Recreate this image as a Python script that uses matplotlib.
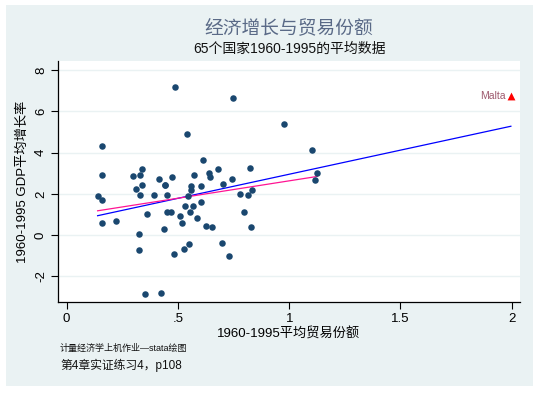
import numpy as np
import matplotlib
matplotlib.use("Agg")
import matplotlib.pyplot as plt
from matplotlib.patches import Rectangle

plt.rcParams['font.family'] = ['Liberation Sans', 'Noto Sans CJK SC', 'DejaVu Sans']

# Data: average trade share (x) and average GDP growth (y), 1960-1995
trade = [0.488, 0.746, 0.978, 0.542, 0.159, 1.104, 0.613, 0.824, 0.337, 0.682,
         0.640, 1.126, 0.159, 0.298, 0.329, 0.574, 0.473, 0.646, 0.416, 0.744,
         1.115, 0.338, 0.440, 0.702, 0.560, 0.604, 0.443, 0.311, 0.560, 0.834,
         0.139, 0.328, 0.392, 0.451, 0.780, 0.813, 0.159, 0.544, 0.605, 0.533,
         0.569, 0.360, 0.452, 0.469, 0.553, 0.511, 0.797, 0.584, 0.157, 0.220,
         0.517, 0.626, 0.653, 0.436, 0.830, 0.325, 0.699, 0.550, 0.527, 0.325,
         0.484, 0.728, 0.352, 0.424]
growth = [7.20, 6.65, 5.40, 4.90, 4.30, 4.11, 3.66, 3.27, 3.22, 3.20,
          3.01, 3.01, 2.93, 2.88, 2.93, 2.90, 2.82, 2.80, 2.70, 2.70,
          2.65, 2.44, 2.44, 2.49, 2.38, 2.38, 2.41, 2.22, 2.18, 2.20,
          1.91, 1.96, 1.96, 1.96, 2.00, 1.94, 1.71, 1.88, 1.59, 1.42,
          1.42, 1.00, 1.10, 1.13, 1.10, 0.94, 1.10, 0.83, 0.58, 0.68,
          0.57, 0.44, 0.37, 0.31, 0.39, 0.05, -0.37, -0.45, -0.66, -0.71,
          -0.91, -1.00, -2.88, -2.80]
malta_x = [1.996]
malta_y = [6.75]
malta_label = "Malta"

xticks = [0, 0.5, 1, 1.5, 2]
xticklabels = ["0", ".5", "1", "1.5", "2"]
yticks = [-2, 0, 2, 4, 6, 8]
yticklabels = ["-2", "0", "2", "4", "6", "8"]

W, H = 539, 394
fig = plt.figure(figsize=(W / 100, H / 100), dpi=100)
fig.patch.set_facecolor('white')
bg = Rectangle((6 / W, 1 - 386 / H), (533 - 6) / W, (386 - 5) / H,
               transform=fig.transFigure, facecolor='#EAF2F3',
               edgecolor='none', zorder=-10)
fig.patches.append(bg)

left, right, top, bottom = 58, 520, 61, 302
ax = fig.add_axes([left / W, 1 - bottom / H, (right - left) / W, (bottom - top) / H])
ax.set_zorder(1)
ax.set_facecolor('white')
ax.set_xlim(-0.039, 2.037)
ax.set_ylim(-3.25, 8.45)

for yt in yticks:
    ax.axhline(yt, color='#EAF2F3', lw=1.0, zorder=1)

# regression lines
allx = np.array(trade + malta_x)
ally = np.array(growth + malta_y)
b1, a1 = np.polyfit(allx, ally, 1)
xs1 = np.array([allx.min(), allx.max()])
ax.plot(xs1, a1 + b1 * xs1, color='#0000FF', lw=0.9, zorder=3)

tx = np.array(trade)
ty = np.array(growth)
b2, a2 = np.polyfit(tx, ty, 1)
xs2 = np.array([tx.min(), tx.max()])
ax.plot(xs2, a2 + b2 * xs2, color='#FF1493', lw=0.9, zorder=3)

ax.scatter(trade, growth, s=22, color='#1A476F', zorder=4, linewidths=0)
ax.scatter(malta_x, malta_y, s=32, marker='^', color='#FF0000', zorder=4, linewidths=0)
ax.annotate(malta_label, (malta_x[0], malta_y[0]), xytext=(-3.5, 0),
            textcoords='offset points', ha='right', va='center',
            fontsize=7.5, color='#9E5A6E')

for s in ['top', 'right']:
    ax.spines[s].set_visible(False)
ax.spines['left'].set_color('#000000')
ax.spines['bottom'].set_color('#000000')
ax.spines['left'].set_linewidth(0.9)
ax.spines['bottom'].set_linewidth(0.9)

ax.set_xticks(xticks)
ax.set_xticklabels(xticklabels, fontsize=9.5)
ax.set_yticks(yticks)
ax.set_yticklabels(yticklabels, fontsize=9.5, rotation=90, va='center')
ax.tick_params(axis='both', length=5, width=0.8, color='#000000', pad=3)

ax.set_xlabel("1960-1995平均贸易份额", fontsize=9.5, labelpad=1.5)
ax.set_ylabel("1960-1995 GDP平均增长率", fontsize=9.5, labelpad=4)

cx = (left + right) / 2 / W
fig.text(cx, 1 - 28 / H, "经济增长与贸易份额", ha='center', va='center',
         fontsize=13.5, color='#5A6A87')
fig.text(cx, 1 - 49 / H, "65个国家1960-1995的平均数据", ha='center', va='center',
         fontsize=10, color='#111111')
fig.text(60 / W, 1 - 349 / H, "计量经济学上机作业—stata绘图", ha='left', va='center',
         fontsize=6.5, color='#111111')
fig.text(60 / W, 1 - 365 / H, "第4章实证练习4，p108", ha='left', va='center',
         fontsize=8.5, color='#111111')

fig.savefig("out.png", dpi=100, facecolor=fig.get_facecolor())
